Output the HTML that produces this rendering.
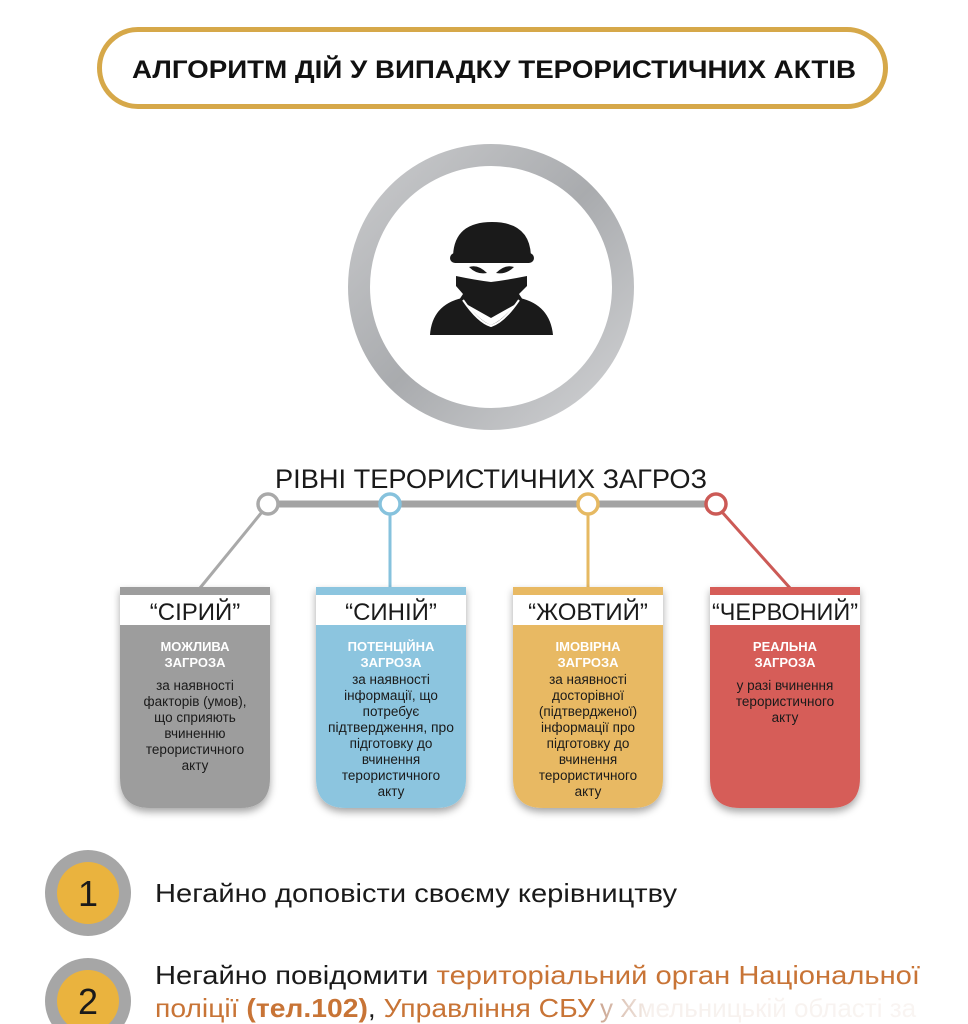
<!DOCTYPE html>
<html><head><meta charset="utf-8"><style>
html,body{margin:0;padding:0;background:#fff;width:968px;height:1024px;overflow:hidden}
svg{display:block}
text{font-family:"Liberation Sans",sans-serif}
</style></head><body>
<svg width="968" height="1024" viewBox="0 0 968 1024" xmlns="http://www.w3.org/2000/svg">
<defs>
<linearGradient id="ring" x1="0" y1="0" x2="1" y2="1">
<stop offset="0" stop-color="#c9cacc"/><stop offset="0.5" stop-color="#a9abae"/><stop offset="1" stop-color="#d0d1d3"/>
</linearGradient>
<filter id="sh" x="-20%" y="-20%" width="140%" height="140%"><feDropShadow dx="0" dy="4" stdDeviation="4" flood-color="#000" flood-opacity="0.35"/></filter>
<linearGradient id="fade" x1="0" y1="0" x2="1" y2="0"><stop offset="0" stop-color="#fff" stop-opacity="0"/><stop offset="0.15" stop-color="#fff" stop-opacity="0.85"/><stop offset="1" stop-color="#fff" stop-opacity="0.9"/></linearGradient>
</defs>
<rect x="99.5" y="29.5" width="786" height="77" rx="38.5" fill="#fff" stroke="#d6a849" stroke-width="5"/>
<text x="494" y="78" font-size="25" font-weight="bold" text-anchor="middle" textLength="724" lengthAdjust="spacingAndGlyphs" fill="#111">АЛГОРИТМ ДІЙ У ВИПАДКУ ТЕРОРИСТИЧНИХ АКТІВ</text>
<circle cx="491" cy="287" r="132" fill="#fff" stroke="url(#ring)" stroke-width="22"/>
<g fill="#1a1a1a">
<path d="M453 258 Q453 222 492 222 Q531 222 531 258 Z"/>
<rect x="450" y="253" width="84" height="10" rx="5"/>
<path d="M469 267 Q478 264 487 273 Q477 275 469 267 Z"/>
<path d="M514 267 Q505 264 496 273 Q506 275 514 267 Z"/>
<path d="M456 276 Q475 280 491 282 Q507 280 527 276 L527 286 L519 294 L523 300 L491 318 L459 300 L463 294 L456 286 Z"/>
<path d="M430 335 Q432 305 462 298 Q478 320 491 325 Q504 320 520 298 Q550 305 553 335 Z"/>
</g>
<path d="M463 300 Q478 322 491 326 Q504 322 519 300" fill="none" stroke="#fff" stroke-width="2"/>
<text x="491" y="488" font-size="27" text-anchor="middle" textLength="432" lengthAdjust="spacingAndGlyphs" fill="#1a1a1a">РІВНІ ТЕРОРИСТИЧНИХ ЗАГРОЗ</text>
<line x1="268" y1="504" x2="716" y2="504" stroke="#a3a3a3" stroke-width="7"/>
<line x1="262" y1="512" x2="200" y2="588" stroke="#a9a9a9" stroke-width="3"/>
<line x1="390" y1="514" x2="390" y2="588" stroke="#86c2dd" stroke-width="3"/>
<line x1="588" y1="514" x2="588" y2="588" stroke="#e6b962" stroke-width="3"/>
<line x1="722" y1="512" x2="790" y2="588" stroke="#cc5a56" stroke-width="3"/>
<circle cx="268" cy="504" r="10" fill="#fff" stroke="#a9a9a9" stroke-width="3.5"/>
<circle cx="390" cy="504" r="10" fill="#fff" stroke="#86c2dd" stroke-width="3.5"/>
<circle cx="588" cy="504" r="10" fill="#fff" stroke="#e6b962" stroke-width="3.5"/>
<circle cx="716" cy="504" r="10" fill="#fff" stroke="#cc5a56" stroke-width="3.5"/>
<g font-size="13.5" text-anchor="middle">
<g>
<path d="M120 587 H270 V778 Q270 808 240 808 H150 Q120 808 120 778 Z" fill="#9d9d9d" filter="url(#sh)"/>
<rect x="120" y="595" width="150" height="30" fill="#fff"/>
<text x="195" y="620" font-size="24" fill="#1a1a1a">“СІРИЙ”</text>
<g fill="#fff" font-weight="bold" font-size="13"><text x="195" y="651">МОЖЛИВА</text><text x="195" y="667">ЗАГРОЗА</text></g>
<g fill="#1a1a1a"><text x="195" y="690">за наявності</text><text x="195" y="706">факторів (умов),</text><text x="195" y="722">що сприяють</text><text x="195" y="738">вчиненню</text><text x="195" y="754">терористичного</text><text x="195" y="770">акту</text></g>
</g>
<g>
<path d="M316 587 H466 V778 Q466 808 436 808 H346 Q316 808 316 778 Z" fill="#8cc5df" filter="url(#sh)"/>
<rect x="316" y="595" width="150" height="30" fill="#fff"/>
<text x="391" y="620" font-size="24" fill="#1a1a1a">“СИНІЙ”</text>
<g fill="#fff" font-weight="bold" font-size="13"><text x="391" y="651">ПОТЕНЦІЙНА</text><text x="391" y="667">ЗАГРОЗА</text></g>
<g fill="#1a1a1a"><text x="391" y="684">за наявності</text><text x="391" y="700">інформації, що</text><text x="391" y="716">потребує</text><text x="391" y="732" textLength="126" lengthAdjust="spacingAndGlyphs">підтвердження, про</text><text x="391" y="748">підготовку до</text><text x="391" y="764">вчинення</text><text x="391" y="780">терористичного</text><text x="391" y="796">акту</text></g>
</g>
<g>
<path d="M513 587 H663 V778 Q663 808 633 808 H543 Q513 808 513 778 Z" fill="#e8b964" filter="url(#sh)"/>
<rect x="513" y="595" width="150" height="30" fill="#fff"/>
<text x="588" y="620" font-size="24" fill="#1a1a1a">“ЖОВТИЙ”</text>
<g fill="#fff" font-weight="bold" font-size="13"><text x="588" y="651">ІМОВІРНА</text><text x="588" y="667">ЗАГРОЗА</text></g>
<g fill="#1a1a1a"><text x="588" y="684">за наявності</text><text x="588" y="700">досторівної</text><text x="588" y="716">(підтвердженої)</text><text x="588" y="732">інформації про</text><text x="588" y="748">підготовку до</text><text x="588" y="764">вчинення</text><text x="588" y="780">терористичного</text><text x="588" y="796">акту</text></g>
</g>
<g>
<path d="M710 587 H860 V778 Q860 808 830 808 H740 Q710 808 710 778 Z" fill="#d65d58" filter="url(#sh)"/>
<rect x="710" y="595" width="150" height="30" fill="#fff"/>
<text x="785" y="620" font-size="24" fill="#1a1a1a" textLength="146" lengthAdjust="spacingAndGlyphs">“ЧЕРВОНИЙ”</text>
<g fill="#fff" font-weight="bold" font-size="13"><text x="785" y="651">РЕАЛЬНА</text><text x="785" y="667">ЗАГРОЗА</text></g>
<g fill="#1a1a1a"><text x="785" y="690">у разі вчинення</text><text x="785" y="706">терористичного</text><text x="785" y="722">акту</text></g>
</g>
</g>
<circle cx="88" cy="893" r="43" fill="#a6a6a6"/>
<circle cx="88" cy="893" r="31" fill="#eab33e"/>
<text x="88" y="906" font-size="36" text-anchor="middle" fill="#1a1a1a">1</text>
<text x="155" y="902" font-size="26" fill="#1a1a1a" textLength="522" lengthAdjust="spacingAndGlyphs">Негайно доповісти своєму керівництву</text>
<circle cx="88" cy="1001" r="43" fill="#a6a6a6"/>
<circle cx="88" cy="1001" r="31" fill="#eab33e"/>
<text x="88" y="1014" font-size="36" text-anchor="middle" fill="#1a1a1a">2</text>
<text x="155" y="984" font-size="26" fill="#1a1a1a" textLength="765" lengthAdjust="spacingAndGlyphs">Негайно повідомити <tspan fill="#c87436">територіальний орган Національної</tspan></text>
<text x="155" y="1017" font-size="26" fill="#c87436" textLength="440" lengthAdjust="spacingAndGlyphs">поліції <tspan font-weight="bold">(тел.102)</tspan><tspan fill="#1a1a1a">,</tspan> Управління СБУ</text>
<text x="600" y="1017" font-size="26" fill="#c8a08a">у Хмельницькій області за</text>
<rect x="595" y="990" width="373" height="34" fill="url(#fade)"/>
</svg>
</body></html>
